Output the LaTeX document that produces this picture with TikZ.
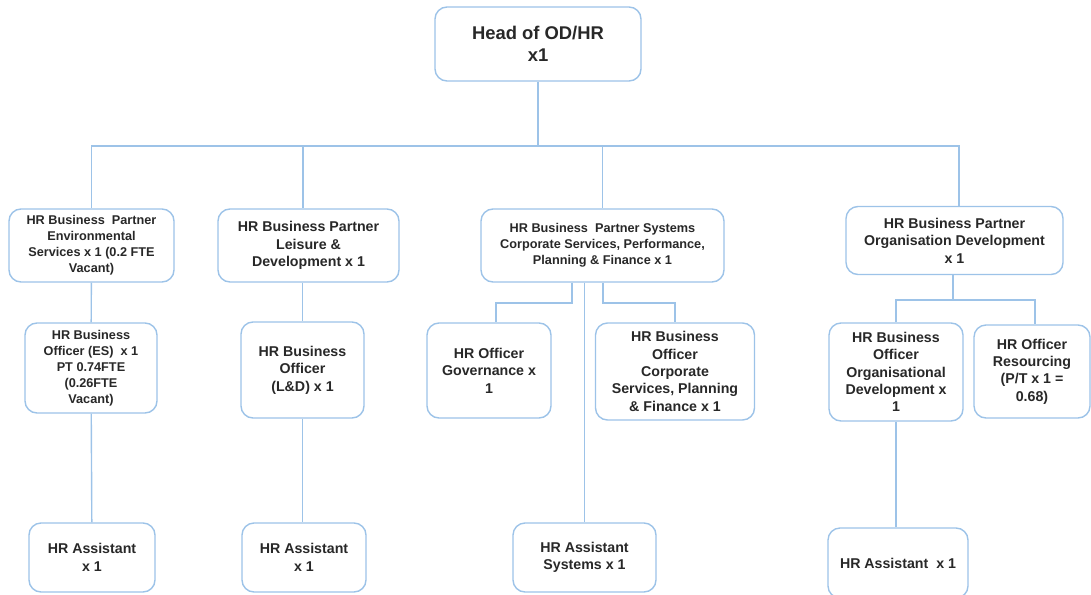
\documentclass[tikz,border=0pt]{standalone}
\usepackage{fontspec}
\setmainfont{Liberation Sans}
\usepackage{tikz}
\definecolor{linkblue}{RGB}{157,195,232}
\definecolor{boxtext}{RGB}{40,40,40}
\newcommand{\headsize}{\fontsize{18.4}{22}\selectfont}
\newcommand{\bigsize}{\fontsize{14.2}{17.4}\selectfont}
\newcommand{\smallsize}{\fontsize{12.7}{16}\selectfont}

\begin{document}
\begin{tikzpicture}[x=1pt, y=-1pt,
  box/.style={draw=linkblue, line width=1.4pt, rounded corners=12pt,
              fill=white, align=center, inner sep=0pt, text=boxtext,
              font=\bfseries\bigsize},
  smallbox/.style={box, font=\bfseries\smallsize},
  link/.style={draw=linkblue, line width=1.4pt}]

\path[use as bounding box] (0,0) rectangle (1091,594);
\clip (0,0) rectangle (1091,594);

\draw (538,44) node (head) [box, font=\bfseries\headsize,
  minimum width=206, minimum height=74] {Head of OD/HR\\x1};

\draw (91.5,245.5) node (bp1) [smallbox, minimum width=165, minimum height=73]
  {HR Business\ \ Partner\\Environmental\\Services x 1 (0.2 FTE\\Vacant)};
\draw (308.5,245.5) node (bp2) [box, minimum width=181, minimum height=73]
  {HR Business Partner\\Leisure \&\\Development x 1};
\draw (602.5,245.5) node (bp3) [smallbox, minimum width=243, minimum height=73]
  {HR Business\ \ Partner Systems\\Corporate Services, Performance,\\Planning \& Finance x 1};
\draw (954.5,240.5) node (bp4) [box, minimum width=217, minimum height=68]
  {HR Business Partner\\Organisation Development\\x 1};

\draw (91,368) node (bo1) [smallbox, minimum width=132, minimum height=90]
  {HR Business\\Officer (ES)\ \ x 1\\PT 0.74FTE\\(0.26FTE\\Vacant)};
\draw (302.5,370) node (bo2) [box, minimum width=123, minimum height=96]
  {HR Business\\Officer\\(L\&D) x 1};
\draw (489,370.5) node (go1) [box, minimum width=124, minimum height=95]
  {HR Officer\\Governance x\\1};
\draw (675,371.5) node (cs1) [box, minimum width=159, minimum height=97]
  {HR Business\\Officer\\Corporate\\Services, Planning\\\& Finance x 1};
\draw (896,372) node (od1) [box, minimum width=134, minimum height=98]
  {HR Business\\Officer\\Organisational\\Development x\\1};
\draw (1032,371.5) node (rs1) [box, minimum width=116, minimum height=93]
  {HR Officer\\Resourcing\\(P/T x 1 =\\0.68)};

\draw (92,557.5) node (as1) [box, minimum width=126, minimum height=69]
  {HR Assistant\\x 1};
\draw (304,557.5) node (as2) [box, minimum width=124, minimum height=69]
  {HR Assistant\\x 1};
\draw (584.5,557.5) node (as3) [box, minimum width=143, minimum height=69]
  {HR Assistant\\Systems x 1};
\draw (898,563) node (as4) [box, minimum width=140, minimum height=70]
  {HR Assistant\ \ x 1};

\coordinate (bar) at (0,146);
\draw[link] (head.south) -- (head.south |- bar);
\draw[link] (bp1.north) |- ([xshift=4.5pt]bp4.north |- bar) -- ([xshift=4.5pt]bp4.north);
\draw[link] ([xshift=-5.5pt]bp2.north |- bar) -- ([xshift=-5.5pt]bp2.north);
\draw[link] (bp3.north |- bar) -- (bp3.north);

\draw[link] (bp1) -- (bo1);
\draw[link] (bo1) -- (as1);
\draw[link] (bo2.north |- bp2.south) -- (bo2.north);
\draw[link] (bo2.south) -- (bo2.south |- as2.north);

\draw[link] (572,0 |- bp3.south) -- (572,303) -| (496,0 |- go1.north);
\draw[link] (603,0 |- bp3.south) -- (603,303) -| (cs1.north);
\draw[link] (as3.north |- bp3.south) -- (as3.north);

\draw[link] (953,0 |- bp4.south) -- (953,300);
\draw[link] (od1.north) |- (1035,300) -- (1035,0 |- rs1.north);
\draw[link] (od1.south) -- (od1.south |- as4.north);
\end{tikzpicture}
\end{document}
